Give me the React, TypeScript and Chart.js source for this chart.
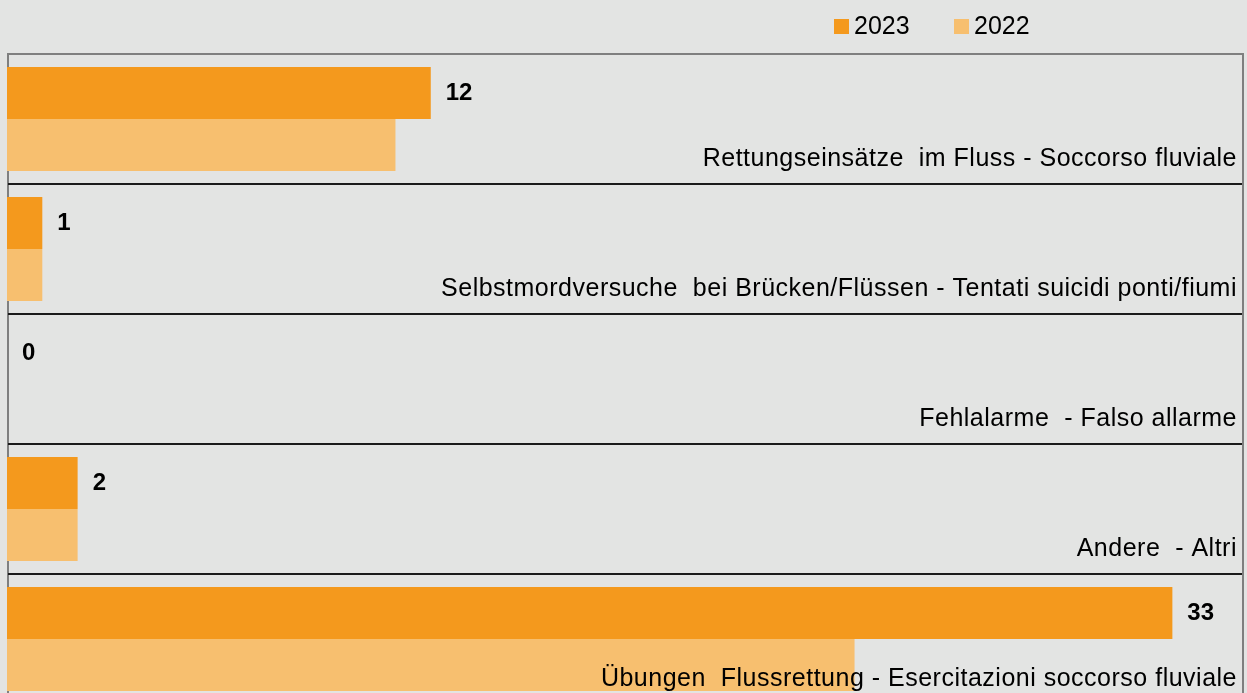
import React, { useEffect, useRef } from "react";
import { Chart, registerables } from "chart.js";

Chart.register(...registerables);

const categories = [
  "Rettungseinsätze  im Fluss - Soccorso fluviale",
  "Selbstmordversuche  bei Brücken/Flüssen - Tentati suicidi ponti/fiumi",
  "Fehlalarme  - Falso allarme",
  "Andere  - Altri",
  "Übungen  Flussrettung - Esercitazioni soccorso fluviale",
];
const values2023 = [12, 1, 0, 2, 33];
const values2022 = [11, 1, 0, 2, 24];
const seriesLabels = ["2023", "2022"];
const xMax = 35;

const COLOR_2023 = "#f4991d";
const COLOR_2022 = "#f7bf6f";
const BG = "#e3e4e3";
const FONT = "'Liberation Sans', Arial, sans-serif";

const decorPlugin = {
  id: "decor",
  beforeDraw(chart: any) {
    const { ctx, width, height } = chart;
    ctx.save();
    ctx.fillStyle = BG;
    ctx.fillRect(0, 0, width, height);
    ctx.restore();
  },
  beforeDatasetsDraw(chart: any) {
    const { ctx, chartArea } = chart;
    const n = categories.length;
    const band = (chartArea.bottom - chartArea.top) / n;
    ctx.save();
    ctx.strokeStyle = "#7f7f7f";
    ctx.lineWidth = 2;
    ctx.beginPath();
    ctx.moveTo(chartArea.left + 1, chartArea.bottom);
    ctx.lineTo(chartArea.left + 1, chartArea.top);
    ctx.lineTo(chartArea.right, chartArea.top);
    ctx.lineTo(chartArea.right, chartArea.bottom);
    ctx.stroke();
    ctx.strokeStyle = "#1a1a1a";
    ctx.lineWidth = 2;
    for (let i = 1; i < n; i++) {
      const y = chartArea.top + band * i;
      ctx.beginPath();
      ctx.moveTo(chartArea.left + 1, y);
      ctx.lineTo(chartArea.right - 1, y);
      ctx.stroke();
    }
    ctx.restore();
  },
  afterDatasetsDraw(chart: any) {
    const { ctx, chartArea } = chart;
    const n = categories.length;
    const band = (chartArea.bottom - chartArea.top) / n;
    const meta2023 = chart.getDatasetMeta(0);
    ctx.save();
    ctx.fillStyle = "#000";
    ctx.font = `25px ${FONT}`;
    (ctx as any).letterSpacing = "0.5px";
    ctx.textAlign = "right";
    ctx.textBaseline = "alphabetic";
    categories.forEach((c, i) => {
      const bottom = chartArea.top + band * (i + 1);
      ctx.fillText(c, chartArea.right - 6, bottom - 18);
    });
    (ctx as any).letterSpacing = "0px";
    ctx.font = `bold 24px ${FONT}`;
    ctx.textAlign = "left";
    ctx.textBaseline = "middle";
    meta2023.data.forEach((bar: any, i: number) => {
      ctx.fillText(String(values2023[i]), bar.x + 15, bar.y);
    });
    const legendX = [834, 954];
    const colors = [COLOR_2023, COLOR_2022];
    ctx.font = `25px ${FONT}`;
    ctx.textBaseline = "middle";
    seriesLabels.forEach((s, i) => {
      ctx.fillStyle = colors[i];
      ctx.fillRect(legendX[i], 19, 15, 15);
      ctx.fillStyle = "#000";
      ctx.fillText(s, legendX[i] + 20, 27);
    });
    ctx.restore();
  },
};

export default function App() {
  const ref = useRef<HTMLCanvasElement>(null);
  useEffect(() => {
    if (!ref.current) return;
    const chart = new Chart(ref.current, {
      type: "bar",
      data: {
        labels: categories,
        datasets: [
          {
            label: seriesLabels[0],
            data: values2023,
            backgroundColor: COLOR_2023,
            borderWidth: 0,
            categoryPercentage: 0.8,
            barPercentage: 1.0,
          },
          {
            label: seriesLabels[1],
            data: values2022,
            backgroundColor: COLOR_2022,
            borderWidth: 0,
            categoryPercentage: 0.8,
            barPercentage: 1.0,
          },
        ],
      },
      options: {
        indexAxis: "y",
        responsive: false,
        animation: false,
        events: [],
        layout: { padding: { left: 7, right: 4, top: 54, bottom: 1 } },
        scales: {
          x: { display: false, min: 0, max: xMax },
          y: { display: false },
        },
        plugins: {
          legend: { display: false },
          tooltip: { enabled: false },
        },
      },
      plugins: [decorPlugin],
    });
    return () => chart.destroy();
  }, []);
  return (
    <div style={{ position: "absolute", left: 0, top: 0 }}>
      <canvas ref={ref} width={1247} height={705} style={{ display: "block", width: 1247, height: 705 }} />
    </div>
  );
}
